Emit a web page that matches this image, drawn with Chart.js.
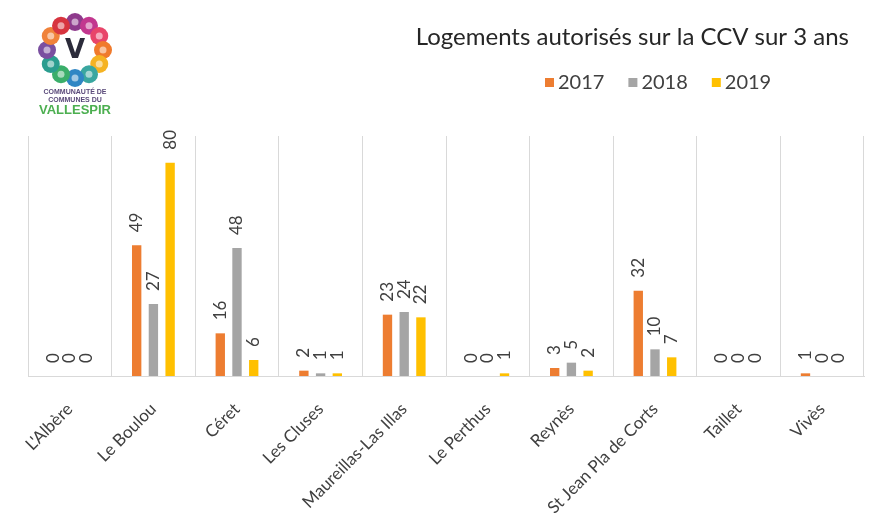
<!DOCTYPE html>
<html>
<head>
<meta charset="utf-8">
<script src="https://cdn.jsdelivr.net/npm/chart.js@4.4.1/dist/chart.umd.min.js"></script>
<style>
  html, body { margin: 0; padding: 0; background: #ffffff; }
  #chart { display: block; }
</style>
</head>
<body>
<canvas id="chart" width="879" height="522"></canvas>
<script>
const categories = ["L'Albère", "Le Boulou", "Céret", "Les Cluses", "Maureillas-Las Illas", "Le Perthus", "Reynès", "St Jean Pla de Corts", "Taillet", "Vivès"];
const years = ["2017", "2018", "2019"];
const values2017 = [0, 49, 16, 2, 23, 0, 3, 32, 0, 1];
const values2018 = [0, 27, 48, 1, 24, 0, 5, 10, 0, 0];
const values2019 = [0, 80, 6, 1, 22, 1, 2, 7, 0, 0];
const seriesColors = ["#ED7D31", "#A5A5A5", "#FFC000"];

const titleText = "Logements autorisés sur la CCV sur 3 ans";
const textColor = "#404040";
const fontFamily = "Lato, 'Open Sans', sans-serif";

// values written vertically above each bar
const barValues = {
    id: "barValues",
    afterDatasetsDraw(chart) {
        const ctx = chart.ctx;
        ctx.save();
        ctx.fillStyle = textColor;
        ctx.font = "17px " + fontFamily;
        ctx.textAlign = "left";
        ctx.textBaseline = "middle";
        chart.data.datasets.forEach((ds, i) => {
            const meta = chart.getDatasetMeta(i);
            meta.data.forEach((bar, j) => {
                ctx.save();
                ctx.translate(bar.x, bar.y - 13);
                ctx.rotate(-Math.PI / 2);
                ctx.fillText(String(ds.data[j]), 0, 0);
                ctx.restore();
            });
        });
        ctx.restore();
    }
};

// title, legend and logo in the header
const header = {
    id: "header",
    afterDraw(chart) {
        const ctx = chart.ctx;
        ctx.save();

        ctx.fillStyle = "#262626";
        ctx.font = "24px " + fontFamily;
        ctx.textAlign = "right";
        ctx.textBaseline = "middle";
        ctx.fillText(titleText, 849, 37);

        // legend
        ctx.font = "20px " + fontFamily;
        ctx.textAlign = "left";
        let x = 545;
        chart.data.datasets.forEach((ds) => {
            ctx.fillStyle = ds.backgroundColor;
            ctx.fillRect(x, 78, 9, 9);
            ctx.fillStyle = textColor;
            ctx.fillText(ds.label, x + 13, 83);
            x += 13 + ctx.measureText(ds.label).width + 24;
        });

        // logo: ring of coloured figures round a V
        const cx = 75, cy = 50, r = 28;
        const ring = ["#8e3a8c", "#c2378f", "#e8456a", "#f07a2c", "#f5b323", "#3aa7a0",
                      "#2f86c4", "#3aae6a", "#2a9d8f", "#7a4fa0", "#f0823a", "#d7343f"];
        ring.forEach((c, k) => {
            const a = -Math.PI / 2 + k * 2 * Math.PI / ring.length;
            ctx.fillStyle = c;
            ctx.beginPath();
            ctx.arc(cx + r * Math.cos(a), cy + r * Math.sin(a), 9, 0, 2 * Math.PI);
            ctx.fill();
            ctx.fillStyle = "rgba(255,255,255,0.55)";
            ctx.beginPath();
            ctx.arc(cx + r * Math.cos(a), cy + r * Math.sin(a), 3.5, 0, 2 * Math.PI);
            ctx.fill();
        });
        ctx.fillStyle = "#2b2b3a";
        ctx.font = "bold 26px 'DejaVu Sans', sans-serif";
        ctx.textAlign = "center";
        ctx.fillText("V", cx, cy + 1);
        ctx.fillStyle = "#5a4a7a";
        ctx.font = "bold 7px 'Liberation Sans', sans-serif";
        ctx.fillText("COMMUNAUTÉ DE", cx, 92);
        ctx.fillText("COMMUNES DU", cx, 100);
        ctx.fillStyle = "#4caf50";
        ctx.font = "bold 13px 'Liberation Sans', sans-serif";
        ctx.fillText("VALLESPIR", cx, 110);

        ctx.restore();
    }
};

const datasets = [values2017, values2018, values2019].map((vals, i) => ({
    label: years[i],
    data: vals,
    backgroundColor: seriesColors[i],
    barPercentage: 0.56,
    categoryPercentage: 0.6
}));

new Chart(document.getElementById("chart"), {
    type: "bar",
    data: {
        labels: categories,
        datasets: datasets
    },
    options: {
        responsive: false,
        animation: false,
        layout: {
            padding: { left: 28, right: 15, top: 136, bottom: 0 }
        },
        plugins: {
            legend: { display: false },
            title: { display: false },
            tooltip: { enabled: false }
        },
        scales: {
            x: {
                // fixed height for the rotated category labels
                afterFit(scale) {
                    scale.height = 146;
                },
                grid: {
                    offset: true,
                    color: "#d9d9d9",
                    drawTicks: false
                },
                border: { color: "#d9d9d9" },
                ticks: {
                    minRotation: 45,
                    maxRotation: 45,
                    padding: 23,
                    color: textColor,
                    font: { family: fontFamily, size: 17 }
                }
            },
            y: {
                display: false,
                min: 0,
                max: 90
            }
        }
    },
    plugins: [barValues, header]
});
</script>
</body>
</html>
